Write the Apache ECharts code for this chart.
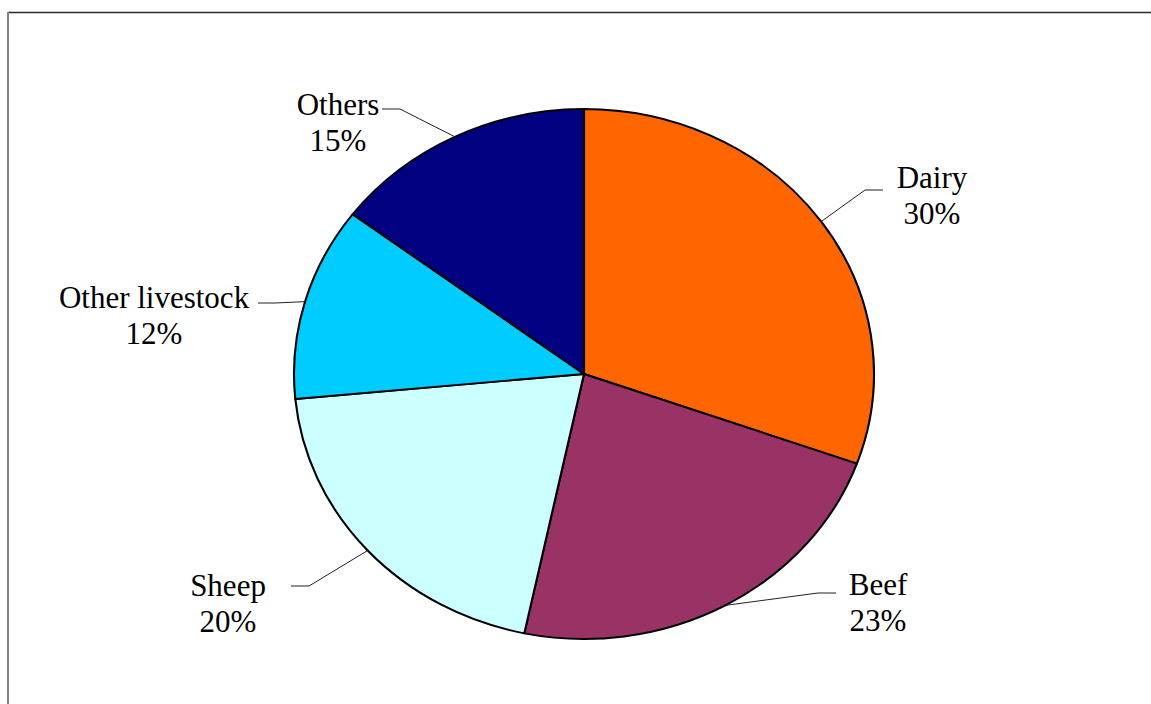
<!DOCTYPE html>
<html>
<head>
<meta charset="utf-8">
<script src="https://cdn.jsdelivr.net/npm/echarts@6/dist/echarts.min.js"></script>
<style>
html,body{margin:0;padding:0;background:#fff;}
#wrap{position:relative;width:1151px;height:704px;overflow:hidden;background:#fff;}
#pie,#lab{position:absolute;left:0;top:0;width:1151px;height:704px;}
#pie{transform:scaleY(0.9138);transform-origin:0 374px;}
</style>
</head>
<body>
<div id="wrap"><div id="pie"></div><div id="lab"></div></div>
<script>
// ---- data ----
const categories = ['Dairy', 'Beef', 'Sheep', 'Other livestock', 'Others'];
const values = [30.49, 22.81, 20.2, 11.8, 14.7];
const colors = ['#FF6600', '#993366', '#CCFFFF', '#00CCFF', '#000080'];

// ---- layout (label placement, not data) ----
const CX = 584, CY = 374, R = 290, K = 0.9138;
const labelPlace = [
  {x: 932, y: 195, elbow: [865, 190], end: [883, 190]},
  {x: 878, y: 602, elbow: [818, 593], end: [836, 593]},
  {x: 228, y: 603, elbow: [309, 586], end: [291, 586]},
  {x: 154, y: 315, elbow: [275, 303], end: [258, 303]},
  {x: 338, y: 122, elbow: [400, 109], end: [382, 109]}
];

const seriesData = categories.map((c, i) => ({name: c, value: values[i]}));

// pie layer (scaled vertically into an ellipse)
const pieChart = echarts.init(document.getElementById('pie'), null, {renderer: 'svg'});
pieChart.setOption({
  animation: false,
  series: [{
    type: 'pie',
    center: [CX, CY],
    radius: R,
    startAngle: 90,
    clockwise: true,
    color: colors,
    data: seriesData,
    label: {show: false},
    labelLine: {show: false},
    itemStyle: {borderColor: '#000', borderWidth: 2.1},
    emphasis: {disabled: true}
  }]
});

// label layer
const labChart = echarts.init(document.getElementById('lab'), null, {renderer: 'svg'});
labChart.setOption({
  animation: false,
  graphic: [
    {type: 'line', shape: {x1: 8, y1: 12.5, x2: 1151, y2: 12.5}, style: {stroke: '#2a2a2a', lineWidth: 1.5}},
    {type: 'line', shape: {x1: 8, y1: 12, x2: 8, y2: 704}, style: {stroke: '#808080', lineWidth: 2}}
  ],
  series: [{
    type: 'pie',
    center: [CX, CY],
    radius: R,
    startAngle: 90,
    clockwise: true,
    data: seriesData,
    silent: true,
    itemStyle: {color: 'rgba(0,0,0,0)', borderWidth: 0},
    emphasis: {disabled: true},
    avoidLabelOverlap: false,
    label: {
      show: true,
      position: 'outside',
      formatter: p => p.name + '\n' + Math.round(p.percent) + '%',
      fontFamily: 'Liberation Serif',
      fontSize: 31,
      lineHeight: 36,
      color: '#000',
      align: 'center'
    },
    labelLine: {show: true, length: 30, length2: 20, lineStyle: {color: '#222', width: 1}},
    labelLayout: function (params) {
      const i = params.dataIndex;
      const L = labelPlace[i];
      const p0 = params.labelLinePoints[0];
      return {
        x: L.x, y: L.y, align: 'center', verticalAlign: 'middle',
        labelLinePoints: [[p0[0], CY + (p0[1] - CY) * K], L.elbow, L.end]
      };
    }
  }]
});
</script>
</body>
</html>
